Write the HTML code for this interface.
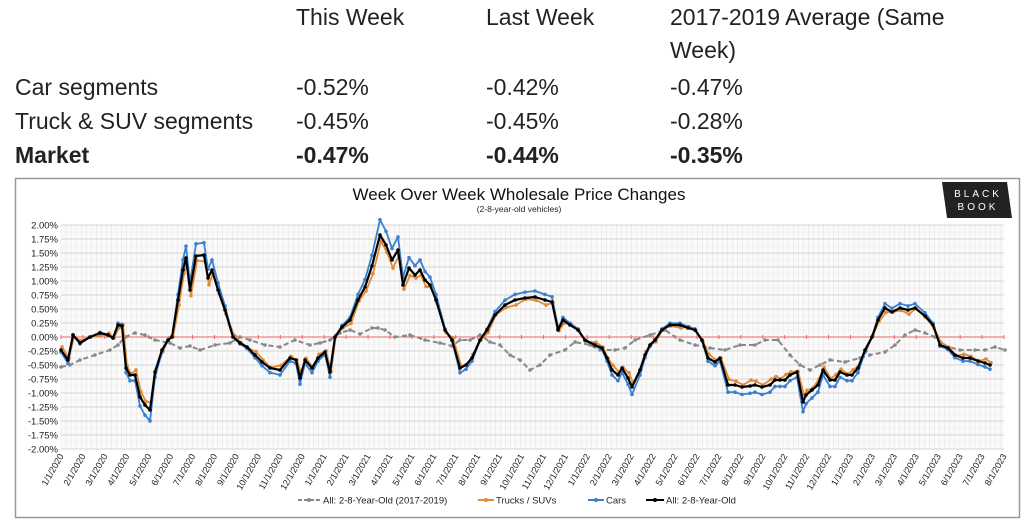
<!DOCTYPE html>
<html><head><meta charset="utf-8"><style>
body{margin:0;width:1024px;height:524px;background:#fff;overflow:hidden;position:relative;font-family:"Liberation Sans",sans-serif;color:#222}
.t{position:absolute;font-size:23px;white-space:nowrap;line-height:1}
.b{font-weight:bold}
</style></head><body>
<div class="t" style="left:296px;top:6px">This Week</div>
<div class="t" style="left:486px;top:6px">Last Week</div>
<div class="t" style="left:670px;top:6px">2017-2019 Average (Same</div>
<div class="t" style="left:670px;top:39px">Week)</div>
<div class="t" style="left:15px;top:76px">Car segments</div>
<div class="t" style="left:296px;top:76px">-0.52%</div>
<div class="t" style="left:486px;top:76px">-0.42%</div>
<div class="t" style="left:670px;top:76px">-0.47%</div>
<div class="t" style="left:15px;top:110px">Truck &amp; SUV segments</div>
<div class="t" style="left:296px;top:110px">-0.45%</div>
<div class="t" style="left:486px;top:110px">-0.45%</div>
<div class="t" style="left:670px;top:110px">-0.28%</div>
<div class="t b" style="left:15px;top:144px">Market</div>
<div class="t b" style="left:296px;top:144px">-0.47%</div>
<div class="t b" style="left:486px;top:144px">-0.44%</div>
<div class="t b" style="left:670px;top:144px">-0.35%</div>
<svg id="c" width="1024" height="524" style="position:absolute;left:0;top:0" xmlns="http://www.w3.org/2000/svg" font-family="Liberation Sans, sans-serif"></svg>
<script>
const s=document.getElementById('c');let h='';
h+='<rect x="15.5" y="178.5" width="1004" height="339" fill="#fff" stroke="#999" stroke-width="1.5"/>';
h+='<text x="519" y="200" font-size="17" text-anchor="middle" fill="#111">Week Over Week Wholesale Price Changes</text>';
h+='<text x="519" y="212" font-size="8.5" text-anchor="middle" fill="#222">(2-8-year-old vehicles)</text>';
h+='<polygon points="942,182 1007,182 1012,218 947,218" fill="#222"/>';
h+='<text x="978" y="197" font-size="10" fill="#fff" text-anchor="middle" letter-spacing="3">BLACK</text>';
h+='<text x="978" y="210" font-size="10" fill="#fff" text-anchor="middle" letter-spacing="3">BOOK</text>';
const X0=61,X1=1004,Y0=225,Y1=449;
h+=`<rect x="${X0}" y="${Y0}" width="${X1-X0}" height="${Y1-Y0}" fill="#fafafa"/>`;
for(let x=X0;x<=X1;x+=5.05)h+=`<line x1="${x}" y1="${Y0}" x2="${x}" y2="${Y1}" stroke="#e6e6e6" stroke-width="0.6"/>`;
for(let i=0;i<=32;i++){let y=Y0+i*7;h+=`<line x1="${X0}" y1="${y}" x2="${X1}" y2="${y}" stroke="${i%2?'#e8e8e8':'#d4d4d4'}" stroke-width="${i%2?0.6:1}"/>`;}
for(let i=0;i<=16;i++){let v=2-i*0.25;let y=Y0+i*14;h+=`<text x="${X0-3}" y="${y+3.5}" font-size="9.5" text-anchor="end" fill="#222">${v.toFixed(2)}%</text>`;}
h+=`<line x1="${X0}" y1="337" x2="${X1}" y2="337" stroke="#e66" stroke-width="1"/>`;
const mw=(X1-X0)/43;
for(let m=0;m<=43;m++){let x=X0+m*mw;let mo=m%12+1,yr=2020+Math.floor(m/12);
h+=`<line x1="${x}" y1="335" x2="${x}" y2="339" stroke="#e66"/>`;
h+=`<text transform="translate(${x+3},${Y1+7}) rotate(-60)" font-size="9" text-anchor="end" fill="#222">${mo}/1/${yr}</text>`;}
const B=[[61,350],[68,360],[73,335],[80,343],[90,337],[100,333],[108,335],[113,338],[118,325],[122,326],[126,368],[130,375],[135,375],[140,397],[145,405],[150,410],[155,372],[162,350],[168,340],[172,337],[178,300],[183,270],[186,258],[190,290],[196,256],[204,255],[208,278],[212,270],[218,290],[225,310],[233,337],[240,343],[247,347],[255,355],[262,362],[270,368],[280,370],[290,358],[296,360],[300,378],[305,360],[312,368],[318,358],[325,352],[330,372],[335,337],[342,327],[350,320],[358,300],[365,287],[372,266],[380,235],[386,245],[392,260],[398,250],[403,285],[409,268],[415,275],[420,270],[425,280],[430,285],[436,300],[445,330],[452,340],[460,368],[466,365],[472,358],[480,340],[487,330],[495,315],[505,305],[515,300],[525,298],[535,297],[545,300],[552,302],[558,330],[563,320],[570,325],[578,330],[585,340],[595,345],[602,348],[607,358],[612,370],[618,375],[622,368],[628,378],[632,387],[640,370],[645,355],[650,345],[655,340],[662,330],[670,325],[680,325],[688,328],[695,330],[702,340],[708,358],[715,362],[720,358],[728,385],[735,385],[742,387],[750,386],[755,385],[762,387],[770,385],[775,380],[780,380],[785,380],[790,375],[797,372],[803,402],[806,395],[812,390],[818,385],[823,370],[830,380],[835,380],[840,372],[847,375],[852,375],[858,368],[865,350],[872,337],[878,320],[885,308],[892,312],[900,308],[908,310],[915,308],[925,316],[933,325],[940,345],[948,348],[955,355],[963,358],[970,358],[978,361],[985,363],[990,365]];
const G=[[61,367],[70,365],[80,360],[95,355],[110,350],[118,345],[125,337],[135,333],[145,335],[155,340],[170,343],[180,348],[190,346],[200,350],[215,345],[230,343],[240,337],[250,340],[265,345],[280,347],[295,340],[310,345],[320,343],[330,340],[340,333],[350,330],[360,334],[372,328],[378,328],[385,330],[395,337],[410,335],[425,340],[440,343],[452,346],[460,340],[470,340],[480,335],[490,342],[500,345],[510,355],[520,360],[530,370],[540,365],[550,355],[565,350],[575,342],[590,345],[600,350],[615,350],[625,348],[635,340],[650,335],[665,330],[680,340],[695,345],[710,348],[725,350],[740,345],[755,345],[765,340],[778,340],[790,355],[800,365],[810,370],[820,365],[830,360],[845,362],[860,358],[870,355],[885,352],[895,345],[905,335],[915,330],[925,333],[935,337],[945,346],[960,350],[975,350],[985,350],[995,347],[1005,350]];
function series(P,col,w,dash){let p=P.map(a=>a[0].toFixed(1)+','+a[1].toFixed(1)).join(' ');
let o=`<polyline points="${p}" fill="none" stroke="${col}" stroke-width="${w}" ${dash?'stroke-dasharray="5,3"':''} stroke-linejoin="round"/>`;
P.forEach(a=>o+=`<circle cx="${a[0]}" cy="${a[1]}" r="1.8" fill="${col}"/>`);return o;}
const C=B.map(a=>[a[0],337+(a[1]-337)*1.15]);
const T=B.map((a,i)=>[a[0]+1,337+(a[1]-337)*0.92+(i%3-1)*2]);
h+=series(G,'#888',2,true);
h+=series(T,'#e08a3a',1.8);
h+=series(C,'#3a7fd0',1.8);
h+=series(B,'#000',2.2);
const ly=500;
h+=`<line x1="298" y1="${ly}" x2="320" y2="${ly}" stroke="#888" stroke-width="2" stroke-dasharray="4,2"/><circle cx="309" cy="${ly}" r="2" fill="#888"/><text x="323" y="${ly+3.5}" font-size="9.5" fill="#222">All: 2-8-Year-Old (2017-2019)</text>`;
h+=`<line x1="478" y1="${ly}" x2="494" y2="${ly}" stroke="#e08a3a" stroke-width="2"/><circle cx="486" cy="${ly}" r="2" fill="#e08a3a"/><text x="496" y="${ly+3.5}" font-size="9.5" fill="#222">Trucks / SUVs</text>`;
h+=`<line x1="588" y1="${ly}" x2="604" y2="${ly}" stroke="#3a7fd0" stroke-width="2"/><circle cx="596" cy="${ly}" r="2" fill="#3a7fd0"/><text x="606" y="${ly+3.5}" font-size="9.5" fill="#222">Cars</text>`;
h+=`<line x1="646" y1="${ly}" x2="664" y2="${ly}" stroke="#000" stroke-width="2"/><circle cx="655" cy="${ly}" r="2" fill="#000"/><text x="666" y="${ly+3.5}" font-size="9.5" fill="#222">All: 2-8-Year-Old</text>`;
s.innerHTML=h;
</script>
</body></html>
